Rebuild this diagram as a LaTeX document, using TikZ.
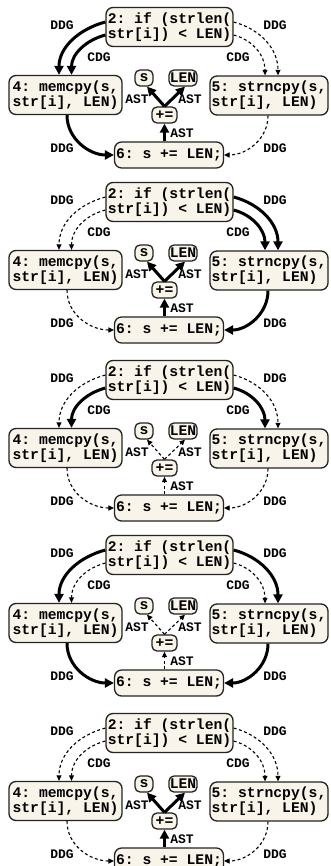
\documentclass[tikz,border=0pt]{standalone}
\usepackage{fontspec}
\setmonofont{Liberation Mono}
\usetikzlibrary{arrows.meta,calc}

\definecolor{boxfill}{RGB}{248,244,233}
\definecolor{boxline}{RGB}{35,35,35}

\newcommand\stmtfont{\ttfamily\bfseries\fontsize{14.7pt}{15pt}\selectfont}
\newcommand\tagfont{\ttfamily\bfseries\fontsize{13pt}{13pt}\selectfont}

\tikzset{
  stmt/.style={draw=boxline, line width=1.3pt, fill=boxfill, rounded corners=7pt,
    inner xsep=1.5pt, inner ysep=2pt, align=left, font=\stmtfont, minimum height=39pt},
  leaf/.style={draw=boxline, line width=1.3pt, fill=boxfill, rounded corners=5pt,
    inner sep=0pt, font=\stmtfont, minimum height=16pt},
  edgetag/.style={font=\tagfont, inner sep=0pt},
  strong/.style={line width=3pt, -{Triangle[length=9pt,width=9pt]}},
  weak/.style={line width=1.1pt, dash pattern=on 3pt off 2.5pt,
    -{Triangle[length=5.5pt,width=5pt]}},
}

% One program slice: #1 scope options, #2..#7 dependency edge styles, #8 AST edge style
\newcommand\slicepanel[8]{%
\begin{scope}[#1]
  \node[stmt, minimum width=127pt] (n2) at (169.5,-27) {2: if (strlen(\\str[i]) < LEN)};
  \node[stmt, minimum width=113pt] (n4) at (65.5,-95) {4: memcpy(s,\\str[i], LEN)};
  \node[stmt, minimum width=118pt] (n5) at (269,-95.5) {5: strncpy(s,\\str[i], LEN)};
  \node[leaf, minimum width=18pt] (s) at (144,-78) {s};
  \node[leaf, minimum width=28pt] (LEN) at (183,-78) {LEN};
  \node[leaf, minimum width=25pt] (pe) at (164.5,-115) {+=};
  \node[stmt, minimum width=108pt, minimum height=26pt] (n6) at (169,-155) {6: s += LEN;};
  % dependency edges
  \draw[#2] ($(n2.west)+(0,5)$) to[out=195,in=90] ($(n4.north)+(-6.5,0)$);
  \draw[#3] ($(n2.west)+(0,-8)$) to[out=195,in=90] ($(n4.north)+(6,0)$);
  \draw[#4] ($(n2.east)+(0,5)$) to[out=-15,in=90] ($(n5.north)+(9,0)$);
  \draw[#5] ($(n2.east)+(0,-8)$) to[out=-15,in=90] ($(n5.north)+(-4,0)$);
  \draw[#6] ($(n4.south)+(1.5,0)$) to[out=-90,in=180] (n6.west);
  \draw[#7] ($(n5.south)+(-1,0)$) to[out=-90,in=0] (n6.east);
  % syntax tree edges
  \draw[#8] (pe.north) -- ($(s.south)+(3,0)$);
  \draw[#8] (pe.north) -- ($(LEN.south)+(2,0)$);
  \draw[#8] (pe.south |- n6.north) -- (pe.south);
  % edge tags
  \node[edgetag] (t24d) at (62,-25) {DDG};
  \node[edgetag] (t24c) at (99,-57) {CDG};
  \node[edgetag] (t25c) at (238,-57) {CDG};
  \node[edgetag] (t25d) at (275,-25) {DDG};
  \node[edgetag] (t46) at (62,-148) {DDG};
  \node[edgetag] (t56) at (275,-148) {DDG};
  \node[edgetag] (tas) at (137,-99) {AST};
  \node[edgetag] (tal) at (190,-99) {AST};
  \node[edgetag] (tap) at (182,-133) {AST};
\end{scope}}

\begin{document}
\begin{tikzpicture}[x=1pt,y=1pt]
  \useasboundingbox (0,0) rectangle (330,-866);
  \clip (0,0) rectangle (330,-866);
  \fill[white] (0,0) rectangle (330,-866);
  \slicepanel{name prefix=a-}{strong}{strong}{weak}{weak}{strong}{weak}{strong}
  \slicepanel{yshift=-175pt, name prefix=b-}{weak}{weak}{strong}{strong}{weak}{strong}{strong}
  \slicepanel{yshift=-353pt, name prefix=c-}{weak}{strong}{weak}{strong}{weak}{weak}{weak}
  \slicepanel{yshift=-528pt, name prefix=d-}{strong}{weak}{strong}{weak}{strong}{strong}{weak}
  \slicepanel{yshift=-706pt, name prefix=e-}{weak}{weak}{weak}{weak}{weak}{weak}{strong}
\end{tikzpicture}
\end{document}
